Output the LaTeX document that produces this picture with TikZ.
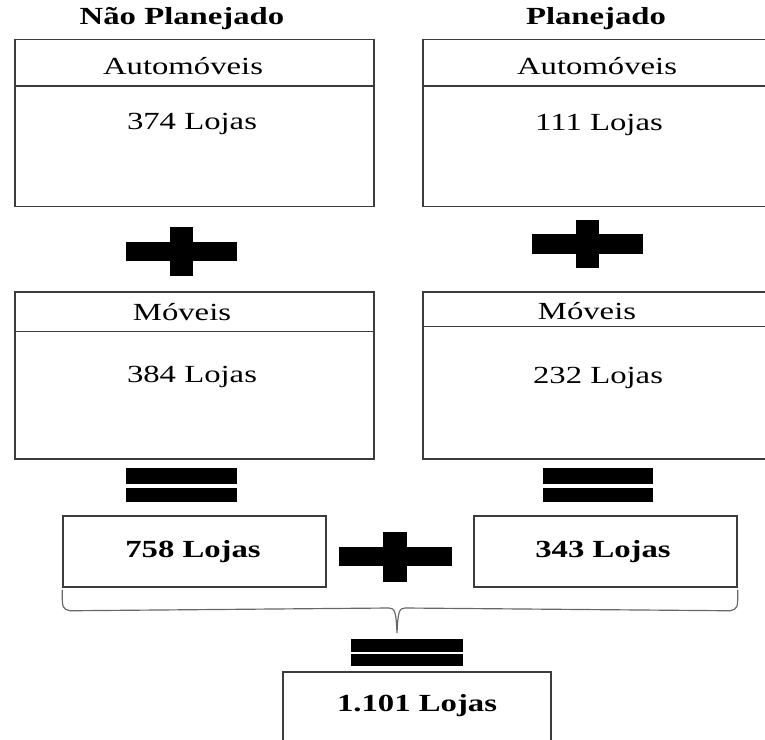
\documentclass[tikz,border=0pt]{standalone}
\usepackage{fontspec}
\setmainfont{Liberation Serif}
\usetikzlibrary{calc}

\definecolor{linegray}{HTML}{3C3C3C}

% the labels are set a little wider than the font
\newcommand{\widetext}[1]{\scalebox{1.33}[1]{#1}}

\begin{document}
\begin{tikzpicture}[
    x = 0.03cm,
    y = -0.03cm,
    catbox/.style = {draw = linegray, line width = 1.3pt, inner sep = 0pt,
      minimum width = 10.77cm, minimum height = 5.0cm},
    sumbox/.style = {draw = linegray, line width = 1.3pt, inner sep = 0pt,
      minimum width = 7.89cm, minimum height = 2.13cm},
    lbl/.style = {font = \fontsize{21}{24}\selectfont, inner sep = 0pt},
    boldlbl/.style = {font = \fontsize{21}{24}\selectfont\bfseries, inner sep = 0pt},
    divider/.style = {draw = linegray, line width = 1.3pt},
    brace/.style = {draw = gray!80!black, line width = 1pt}
  ]
  \useasboundingbox (0,0) rectangle (765,740);

  % column titles
  \node[boldlbl] (tN) at (182,19) {\widetext{Não Planejado}};
  \node[boldlbl] (tP) at (596,19) {\widetext{Planejado}};

  % automoveis boxes
  \node[catbox] (autoN) at (194.5,123) {};
  \node[catbox] (autoP) at (602.5,123) {};
  \draw[divider] ($(autoN.north west)+(0,47)$) -- ($(autoN.north east)+(0,47)$);
  \draw[divider] ($(autoP.north west)+(0,47)$) -- ($(autoP.north east)+(0,47)$);
  \node[lbl] (autoNh) at (183,66) {\widetext{Automóveis}};
  \node[lbl] (autoPh) at (597,66) {\widetext{Automóveis}};
  \node[lbl] (autoNv) at (192,124) {\widetext{374 Lojas}};
  \node[lbl] (autoPv) at (599,125) {\widetext{111 Lojas}};

  % plus signs between the rows
  \fill (126,242) rectangle (237,261);
  \fill (170,227) rectangle (193,276);
  \fill (532,234) rectangle (643,254);
  \fill (576,220) rectangle (599,268);

  % moveis boxes
  \node[catbox] (movN) at (194.5,375.5) {};
  \node[catbox] (movP) at (602.5,375.5) {};
  \draw[divider] ($(movN.north west)+(0,40)$) -- ($(movN.north east)+(0,40)$);
  \draw[divider] ($(movP.north west)+(0,35)$) -- ($(movP.north east)+(0,35)$);
  \node[lbl] (movNh) at (182,312) {\widetext{Móveis}};
  \node[lbl] (movPh) at (587,311) {\widetext{Móveis}};
  \node[lbl] (movNv) at (192,377) {\widetext{384 Lojas}};
  \node[lbl] (movPv) at (598,378) {\widetext{232 Lojas}};

  % equal signs
  \fill (126,468) rectangle (237,484);
  \fill (126,488) rectangle (237,502);
  \fill (543,468) rectangle (653,484);
  \fill (543,488) rectangle (653,502);

  % subtotals
  \node[sumbox] (sumN) at (194.5,551.5) {};
  \node[sumbox] (sumP) at (605.5,551.5) {};
  \node[boldlbl] (sumNv) at (193,552) {\widetext{758 Lojas}};
  \node[boldlbl] (sumPv) at (603,552) {\widetext{343 Lojas}};
  \fill (339,547) rectangle (452,566);
  \fill (383,532) rectangle (407,582);

  % brace under both subtotals
  \coordinate (bl) at ($(sumN.south west)+(0,2)$);
  \coordinate (br) at ($(sumP.south east)+(0,2)$);
  \coordinate (tip) at (397,633);
  \draw[brace] (bl) .. controls ($(bl)+(0,19)$) .. ($(bl)+(8,21)$)
    -- (389,608) .. controls (395,608) and (396,612) .. (tip)
    .. controls (398,612) and (399,608) .. (405,608)
    -- ($(br)+(-8,21)$) .. controls ($(br)+(0,19)$) .. (br);

  % total
  \fill (351,639) rectangle (463,652);
  \fill (351,654) rectangle (463,666);
  \node[sumbox, minimum width = 8.04cm, minimum height = 2.4cm] (total) at (417,712) {};
  \node[boldlbl] (totalv) at (417,706) {\widetext{1.101 Lojas}};
\end{tikzpicture}
\end{document}
